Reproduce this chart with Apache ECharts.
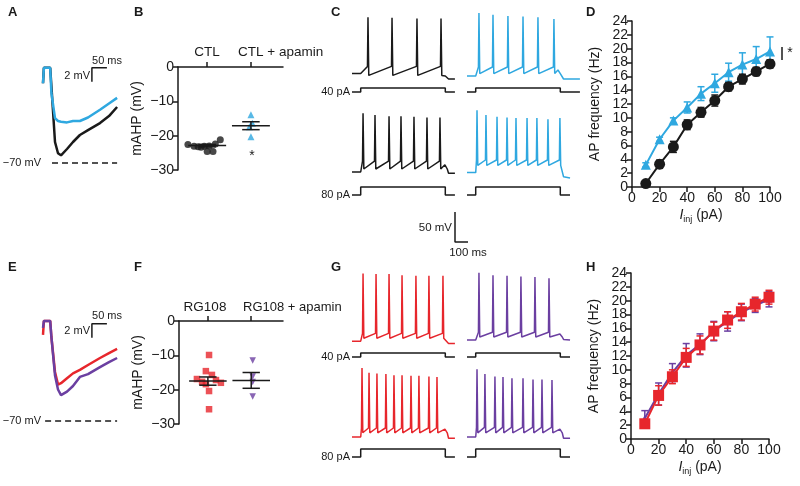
<!DOCTYPE html>
<html>
<head>
<meta charset="utf-8">
<script src="https://cdn.jsdelivr.net/npm/echarts@6/dist/echarts.min.js"></script>
<style>
  html, body { margin: 0; background: #fff; }
  #chart { width: 800px; height: 486px; }
</style>
</head>
<body>
<div id="chart"></div>
<script>
const font = '"Liberation Sans", Arial, sans-serif';
const ink = '#1a1a1a';
const blue = '#2fa8e0';
const red = '#e7262c';
const purple = '#6b3fa1';

// ---- A / E: mAHP after a spike train (time in ms, membrane potential in mV)
const ahpT = [0, 3, 24, 28, 40, 50, 60, 80, 100, 123, 150, 190, 220, 247];
const ahpCtl = [-58.6, -56.4, -56.4, -59, -67, -68.6, -68.9, -68.0, -67.0, -66.0, -65.3, -64.3, -63.3, -62.0];
const ahpApamin = [-58.6, -56.4, -56.4, -60, -63.6, -64.0, -64.1, -64.2, -64.0, -64.0, -63.5, -62.4, -61.5, -60.7];
const ahpRg = [-57.7, -55.7, -55.7, -58, -63, -64.8, -64.6, -63.9, -63.2, -62.7, -62.0, -61.0, -60.3, -59.7];
const ahpRgApamin = [-56.7, -55.7, -55.7, -58, -63.5, -65.5, -66.3, -65.8, -65.0, -63.7, -63.3, -62.3, -61.6, -61.0];

// ---- B / F: mAHP per cell (x = jitter around group position)
const groupPos = [1, 2.5];
const ctlX = [0.34, 0.55, 0.69, 0.79, 0.9, 1.0, 1.07, 1.2, 1.28, 1.45];
const ctlMahp = [-22.6, -23.1, -23.2, -23.4, -23.1, -24.6, -23.0, -24.6, -22.4, -21.2];
const apaX = [2.5, 2.55, 2.45, 2.5];
const apaMahp = [-13.9, -16.4, -17.4, -20.3];
const bMean = [-22.9, -17.1];
const bSem = [0.35, 1.15];
const rgX = [1.04, 0.93, 1.14, 0.62, 0.8, 1.28, 1.45, 0.93, 1.04, 1.04];
const rgMahp = [-9.9, -14.6, -15.7, -16.9, -17.7, -17.2, -18.0, -18.4, -20.4, -25.7];
const rgApaX = [2.55, 2.55, 2.55, 2.55];
const rgApaMahp = [-11.5, -16.2, -17.8, -22.0];
const fMean = [-17.5, -17.3];
const fSem = [1.2, 2.3];

// ---- C / G: spike trains. spike times (ms), spike peaks (mV),
// levels = [rest, trough, pre-spike, before step end, after step end, end]
const stepOn = 67, stepOff = 718;
const stepAmp = [40, 80];
const cCtl40Spk = [123, 308, 500, 685];
const cCtl40Pk = [23, 22, 21, 21];
const cCtl40Lv = [-71, -74, -59, -75, -80, -80];
const cApa40Spk = [92, 200, 315, 431, 546, 669, 700];
const cApa40Pk = [30, 27, 25, 24, 23, 20, -65];
const cApa40Lv = [-75, -71, -60, -71, -80, -80];
const cCtl80Spk = [85, 177, 285, 377, 477, 577, 677, 715];
const cCtl80Pk = [28, 25, 23, 23, 22, 21, 21, -58];
const cCtl80Lv = [-70, -65, -52, -63, -72, -72];
const cApa80Spk = [77, 146, 231, 308, 377, 462, 538, 623, 715];
const cApa80Pk = [33, 25, 22, 21, 20, 20, 20, 18, 20];
const cApa80Lv = [-71, -59, -50, -58, -78, -80];
const gRg40Spk = [85, 185, 285, 385, 492, 592, 700];
const gRg40Pk = [41, 40, 40, 38, 37, 37, 37];
const gRg40Lv = [-72, -67, -59, -65, -76, -76];
const gRgApa40Spk = [92, 200, 308, 415, 523, 631, 715];
const gRgApa40Pk = [42, 38, 37, 36, 35, 33, -60];
const gRgApa40Lv = [-70, -65, -57, -65, -69, -70];
const gRg80Spk = [77, 131, 192, 261, 323, 385, 454, 515, 592, 654, 715];
const gRg80Pk = [45, 37, 36, 35, 33, 33, 32, 32, 31, 30, -57];
const gRg80Lv = [-70, -63, -55, -62, -72, -72];
const gRgApa80Spk = [77, 138, 215, 277, 346, 431, 508, 577, 654, 715];
const gRgApa80Pk = [43, 35, 31, 30, 28, 28, 26, 26, 25, -57];
const gRgApa80Lv = [-70, -63, -54, -62, -72, -72];
const sweepEnd = [792, 869, 792, 793, 792, 793, 792, 793];

// ---- D / H: f-I curves
const iInj = [10, 20, 30, 40, 50, 60, 70, 80, 90, 100];
const fCtl = [0.5, 3.3, 5.8, 9.0, 10.8, 12.5, 14.5, 15.6, 16.7, 17.8];
const fCtlSem = [0.4, 0.6, 0.8, 0.7, 0.7, 0.8, 0.6, 0.7, 0.6, 0.6];
const fApamin = [3.2, 6.9, 9.6, 11.5, 13.5, 15.0, 16.6, 17.7, 18.5, 19.6];
const fApaminSem = [0.3, 0.3, 0.4, 0.8, 1.0, 1.3, 1.3, 1.7, 1.8, 2.1];
const fRg = [2.2, 6.3, 9.0, 11.8, 13.6, 15.6, 17.2, 18.4, 19.5, 20.5];
const fRgSem = [0.6, 1.4, 1.0, 1.3, 1.3, 1.3, 1.2, 1.2, 1.0, 1.0];
const fRgApamin = [3.0, 6.5, 9.6, 12.1, 13.7, 15.6, 17.0, 18.3, 19.3, 20.2];
const fRgApaminSem = [1.1, 1.6, 1.3, 1.7, 1.5, 1.4, 1.4, 1.2, 1.0, 1.1];

// ---------------------------------------------------------------
const grids = [], xAxes = [], yAxes = [], series = [];

function addHiddenGrid(box, xr, yr) {
  const i = grids.length;
  grids.push({ left: box[0], top: box[1], width: box[2], height: box[3], outerBoundsMode: 'none' });
  xAxes.push({ gridIndex: i, type: 'value', min: xr[0], max: xr[1], show: false });
  yAxes.push({ gridIndex: i, type: 'value', min: yr[0], max: yr[1], show: false });
  return i;
}

function polyline(gi, data, color, width, extra) {
  series.push(Object.assign({
    type: 'line', xAxisIndex: gi, yAxisIndex: gi, data,
    symbol: 'none', clip: false, silent: true,
    lineStyle: { color, width }
  }, extra || {}));
}

function sweep(spk, pk, lv, tEnd) {
  const [rest, trough, thr, preOff, afterOff, last] = lv;
  const pts = [[0, rest], [stepOn, rest]];
  let tLast = stepOn;
  spk.forEach((t, i) => {
    if (pk[i] < thr) {           // failed spike / small bump
      pts.push([t, pk[i]], [t + 18, trough]);
      tLast = t + 18;
    } else {
      pts.push([t - 4, thr], [t, pk[i]], [t + 6, trough]);
      tLast = t + 6;
    }
  });
  if (stepOff > tLast + 4) pts.push([stepOff, preOff]);
  pts.push([stepOff + 25, afterOff], [tEnd, last]);
  return pts;
}

function stepTrace(amp, tEnd) {
  return [[0, 0], [stepOn, 0], [stepOn, amp], [stepOff, amp], [stepOff, 0], [tEnd, 0]];
}

// A and E
[[58, ahpCtl, ahpApamin, ink, blue, 30, -56.4], [316, ahpRg, ahpRgApamin, red, purple, 7, -56.1]]
  .forEach(([top, a, b, ca, cb, dashFrom, barTop]) => {
    const gi = addHiddenGrid([43, top, 75, 119], [0, 250], [-72, -55]);
    polyline(gi, [[dashFrom, -70], [247, -70]], ink, 1.5, { lineStyle: { color: ink, width: 1.5, type: [6, 4] } });
    polyline(gi, ahpT.map((t, i) => [t, a[i]]), ca, 2.5);
    polyline(gi, ahpT.map((t, i) => [t, b[i]]), cb, 2.5);
    polyline(gi, [[163, barTop - 2], [163, barTop], [213, barTop]], ink, 1.5);
  });

// C and G
const sweeps = [
  ['C', 0, 0, cCtl40Spk, cCtl40Pk, cCtl40Lv, ink],
  ['C', 0, 1, cApa40Spk, cApa40Pk, cApa40Lv, blue],
  ['C', 1, 0, cCtl80Spk, cCtl80Pk, cCtl80Lv, ink],
  ['C', 1, 1, cApa80Spk, cApa80Pk, cApa80Lv, blue],
  ['G', 0, 0, gRg40Spk, gRg40Pk, gRg40Lv, red],
  ['G', 0, 1, gRgApa40Spk, gRgApa40Pk, gRgApa40Lv, purple],
  ['G', 1, 0, gRg80Spk, gRg80Pk, gRg80Lv, red],
  ['G', 1, 1, gRgApa80Spk, gRgApa80Pk, gRgApa80Lv, purple]
];
const baseY = { C: [73, 172], G: [340, 437] };
const stepLowY = { C: [92, 195], G: [357, 457] };
const colLeft = [352, 467];
sweeps.forEach(([p, row, col, spk, pk, lv, color], k) => {
  const tEnd = sweepEnd[k];
  const gi = addHiddenGrid([colLeft[col], baseY[p][row] - 66, 115, 78], [0, 885], [-90, 40]);
  polyline(gi, sweep(spk, pk, lv, tEnd), color, 1.5);
  const si = addHiddenGrid([colLeft[col], stepLowY[p][row] - 10, 115, 10], [0, 885], [0, 100]);
  polyline(si, stepTrace(stepAmp[row], tEnd), ink, 1.5);
});
// 50 mV / 100 ms scale bar
const sb = addHiddenGrid([455, 212, 13, 30], [0, 100], [0, 50]);
polyline(sb, [[0, 50], [0, 0], [100, 0]], ink, 1.5);

// B and F
function meanSem(params, api) {
  const x = api.value(0), m = api.value(1), s = api.value(2);
  const seg = (x1, y1, x2, y2) => {
    const a = api.coord([x1, y1]), b = api.coord([x2, y2]);
    return { type: 'line', shape: { x1: a[0], y1: a[1], x2: b[0], y2: b[1] }, style: { stroke: ink, lineWidth: 1.5 } };
  };
  return { type: 'group', children: [
    seg(x - 0.65, m, x + 0.65, m),
    seg(x - 0.3, m + s, x + 0.3, m + s),
    seg(x - 0.3, m - s, x + 0.3, m - s),
    seg(x, m - s, x, m + s)
  ] };
}

const minus = v => String(v).replace('-', '\u2212');
[
  [[178, 67, 105, 103], ctlX, ctlMahp, ink, 'circle', 0, apaX, apaMahp, blue, 'triangle', 0, bMean, bSem, 7],
  [[179, 321, 104, 103], rgX, rgMahp, red, 'rect', 0, rgApaX, rgApaMahp, purple, 'triangle', 180, fMean, fSem, 6.5]
].forEach(([box, x1, y1, c1, s1, r1, x2, y2, c2, s2, r2, mean, sem, size]) => {
  const gi = grids.length;
  grids.push({ left: box[0], top: box[1], width: box[2], height: box[3], outerBoundsMode: 'none' });
  xAxes.push({
    gridIndex: gi, type: 'value', min: 0, max: 3.6, position: 'top',
    axisLine: { show: true, onZero: false, lineStyle: { color: ink, width: 1.5 } },
    axisTick: { show: true, customValues: groupPos, length: 5, lineStyle: { color: ink, width: 1.5 } },
    axisLabel: { show: false }, splitLine: { show: false }
  });
  yAxes.push({
    gridIndex: gi, type: 'value', min: -30, max: 0, interval: 10,
    axisLine: { show: true, lineStyle: { color: ink, width: 1.5 } },
    axisTick: { show: true, length: 5, lineStyle: { color: ink, width: 1.5 } },
    axisLabel: { color: ink, fontSize: 14, fontFamily: font, margin: 4, formatter: minus,
      showMinLabel: true, showMaxLabel: true },
    splitLine: { show: false },
    name: 'mAHP (mV)', nameLocation: 'middle', nameGap: 34,
    nameTextStyle: { color: ink, fontSize: 14, fontFamily: font }
  });
  series.push({ type: 'scatter', xAxisIndex: gi, yAxisIndex: gi, data: x1.map((x, i) => [x, y1[i]]),
    symbol: s1, symbolRotate: r1, symbolSize: size, itemStyle: { color: c1 } });
  series.push({ type: 'scatter', xAxisIndex: gi, yAxisIndex: gi, data: x2.map((x, i) => [x, y2[i]]),
    symbol: s2, symbolRotate: r2, symbolSize: size, itemStyle: { color: c2 } });
  series.push({ type: 'custom', xAxisIndex: gi, yAxisIndex: gi, renderItem: meanSem, z: 5,
    data: groupPos.map((g, i) => [g, mean[i], sem[i]]) });
});

// D and H
function errBars(color) {
  return (params, api) => {
    const x = api.value(0), y = api.value(1), e = api.value(2);
    const t = api.coord([x, y + e]), b = api.coord([x, y - e]);
    const st = { stroke: color, lineWidth: 1.5 };
    return { type: 'group', children: [
      { type: 'line', shape: { x1: t[0], y1: t[1], x2: b[0], y2: b[1] }, style: st },
      { type: 'line', shape: { x1: t[0] - 3.5, y1: t[1], x2: t[0] + 3.5, y2: t[1] }, style: st },
      { type: 'line', shape: { x1: b[0] - 3.5, y1: b[1], x2: b[0] + 3.5, y2: b[1] }, style: st }
    ] };
  };
}

const xName = {
  name: '{i|I}{s|inj}{n| (pA)}', nameLocation: 'middle', nameGap: 20,
  nameTextStyle: { rich: {
    i: { fontSize: 14, fontStyle: 'italic', color: ink, fontFamily: font },
    s: { fontSize: 9, color: ink, fontFamily: font, verticalAlign: 'bottom', padding: [8, 0, 0, 0] },
    n: { fontSize: 14, color: ink, fontFamily: font }
  } }
};
[
  [[632, 21, 138, 166], fCtl, fCtlSem, ink, 'circle', 0, 11, fApamin, fApaminSem, blue, 'triangle', 0, 10, true],
  [[631, 273, 138, 166], fRgApamin, fRgApaminSem, purple, 'triangle', 0, 7, fRg, fRgSem, red, 'rect', 0, 11, false]
].forEach(([box, y1, e1, c1, s1, r1, z1, y2, e2, c2, s2, r2, z2, firstOnTop]) => {
  const gi = grids.length;
  grids.push({ left: box[0], top: box[1], width: box[2], height: box[3], outerBoundsMode: 'none' });
  xAxes.push(Object.assign({
    gridIndex: gi, type: 'value', min: 0, max: 100, interval: 20,
    axisLine: { show: true, onZero: false, lineStyle: { color: ink, width: 1.5 } },
    axisTick: { show: true, length: 5, lineStyle: { color: ink, width: 1.5 } },
    axisLabel: { color: ink, fontSize: 14, fontFamily: font, margin: 4, showMinLabel: true, showMaxLabel: true },
    splitLine: { show: false }
  }, xName));
  yAxes.push({
    gridIndex: gi, type: 'value', min: 0, max: 24, interval: 2,
    axisLine: { show: true, lineStyle: { color: ink, width: 1.5 } },
    axisTick: { show: true, length: 5, lineStyle: { color: ink, width: 1.5 } },
    axisLabel: { color: ink, fontSize: 14, lineHeight: 11, fontFamily: font, margin: 4,
      showMinLabel: true, showMaxLabel: true, hideOverlap: false },
    splitLine: { show: false },
    name: 'AP frequency (Hz)', nameLocation: 'middle', nameGap: 30,
    nameTextStyle: { color: ink, fontSize: 14, fontFamily: font }
  });
  const zA = firstOnTop ? 4 : 2, zB = firstOnTop ? 2 : 4;
  series.push({ type: 'custom', xAxisIndex: gi, yAxisIndex: gi, renderItem: errBars(c1), z: zA,
    data: iInj.map((x, i) => [x, y1[i], e1[i]]) });
  series.push({ type: 'line', xAxisIndex: gi, yAxisIndex: gi, data: iInj.map((x, i) => [x, y1[i]]), z: zA,
    symbol: s1, symbolRotate: r1, symbolSize: z1, showAllSymbol: true,
    lineStyle: { color: c1, width: 2 }, itemStyle: { color: c1 } });
  series.push({ type: 'custom', xAxisIndex: gi, yAxisIndex: gi, renderItem: errBars(c2), z: zB,
    data: iInj.map((x, i) => [x, y2[i], e2[i]]) });
  series.push({ type: 'line', xAxisIndex: gi, yAxisIndex: gi, data: iInj.map((x, i) => [x, y2[i]]), z: zB,
    symbol: s2, symbolRotate: r2, symbolSize: z2, showAllSymbol: true,
    lineStyle: { color: c2, width: 2 }, itemStyle: { color: c2 } });
});

// texts
function txt(x, y, s, size, align, bold) {
  return { type: 'text', x, y, silent: true, style: {
    text: s, fill: ink, fontSize: size, fontFamily: font, fontWeight: bold ? 'bold' : 'normal',
    align: align || 'left', textAlign: align || 'left', verticalAlign: 'middle', textVerticalAlign: 'middle'
  } };
}
const graphic = [
  txt(8, 12, 'A', 13, 'left', true), txt(134, 12, 'B', 13, 'left', true),
  txt(331, 12, 'C', 13, 'left', true), txt(586, 12, 'D', 13, 'left', true),
  txt(8, 267, 'E', 13, 'left', true), txt(134, 267, 'F', 13, 'left', true),
  txt(331, 267, 'G', 13, 'left', true), txt(586, 267, 'H', 13, 'left', true),
  txt(107, 61, '50 ms', 11, 'center'), txt(90, 76, '2 mV', 11, 'right'), txt(41, 163, '\u221270 mV', 11, 'right'),
  txt(107, 316, '50 ms', 11, 'center'), txt(90, 331, '2 mV', 11, 'right'), txt(41, 421, '\u221270 mV', 11, 'right'),
  txt(207, 52, 'CTL', 13.5, 'center'), txt(238, 52, 'CTL + apamin', 13.5, 'left'), txt(252, 156, '*', 14, 'center'),
  txt(205, 307, 'RG108', 13.5, 'center'), txt(243, 307, 'RG108 + apamin', 13, 'left'),
  txt(350, 92, '40 pA', 11, 'right'), txt(350, 195, '80 pA', 11, 'right'),
  txt(350, 357, '40 pA', 11, 'right'), txt(350, 457, '80 pA', 11, 'right'),
  txt(452, 228, '50 mV', 11.5, 'right'), txt(468, 253, '100 ms', 11.5, 'center'),
  { type: 'line', silent: true, shape: { x1: 782, y1: 47, x2: 782, y2: 60 }, style: { stroke: ink, lineWidth: 1.5 } },
  txt(790, 53, '*', 14, 'center')
];

const chart = echarts.init(document.getElementById('chart'), null, { renderer: 'canvas' });
chart.setOption({
  animation: false,
  textStyle: { fontFamily: font },
  grid: grids,
  xAxis: xAxes,
  yAxis: yAxes,
  series,
  graphic
});
</script>
</body>
</html>
